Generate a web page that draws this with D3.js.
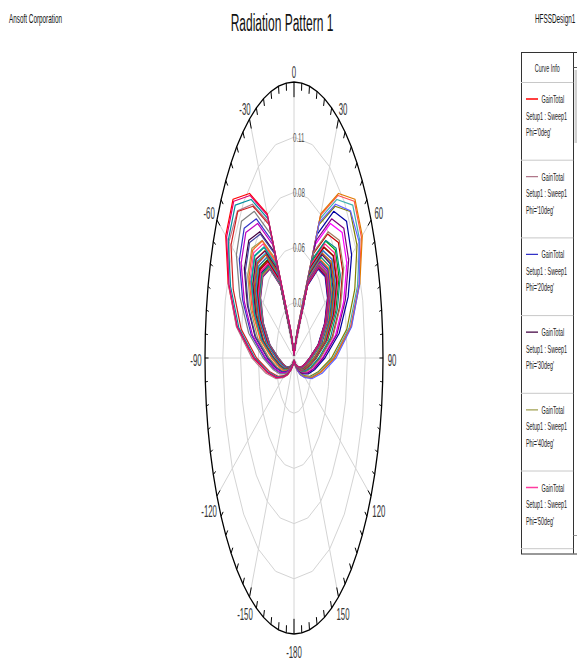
<!DOCTYPE html>
<html>
<head>
<meta charset="utf-8">
<script src="https://d3js.org/d3.v7.min.js"></script>
<style>
  body { margin: 0; background: #fff; }
  text { font-family: "Liberation Sans", Arial, sans-serif; }
</style>
</head>
<body>
<div id="chart"></div>
<script>

// theta samples (deg) of every cut, and the phi cuts that were swept
var thetaDeg = [0, 10, 20, 30, 40, 50, 60, 70, 80, 90, 100, 110, 120, 130, 140, 150, 160, 170, 180];
var phiDeg = [0, 10, 20, 30, 40, 50, 60, 70, 80, 90, 100, 110, 120, 130, 140, 150, 160, 170,
              180, 190, 200, 210, 220, 230, 240, 250, 260, 270, 280, 290, 300, 310, 320, 330, 340, 350];

// GainTotal, one list per phi, theta 0..180
var g000 = [0.0015, 0.0032, 0.0096, 0.0422, 0.0589, 0.0640, 0.0608, 0.0512, 0.0384, 0.0243, 0.0173, 0.0128, 0.0093, 0.0064, 0.0042, 0.0027, 0.0018, 0.0013, 0.0010];
var g010 = [0.0015, 0.0032, 0.0095, 0.0417, 0.0581, 0.0632, 0.0600, 0.0506, 0.0379, 0.0240, 0.0171, 0.0126, 0.0092, 0.0063, 0.0041, 0.0027, 0.0018, 0.0013, 0.0010];
var g020 = [0.0015, 0.0031, 0.0094, 0.0414, 0.0578, 0.0628, 0.0597, 0.0502, 0.0377, 0.0239, 0.0170, 0.0126, 0.0091, 0.0063, 0.0041, 0.0026, 0.0018, 0.0013, 0.0010];
var g030 = [0.0015, 0.0032, 0.0095, 0.0420, 0.0585, 0.0636, 0.0604, 0.0509, 0.0382, 0.0242, 0.0172, 0.0127, 0.0092, 0.0064, 0.0041, 0.0027, 0.0018, 0.0013, 0.0010];
var g040 = [0.0015, 0.0033, 0.0098, 0.0429, 0.0598, 0.0650, 0.0618, 0.0520, 0.0390, 0.0247, 0.0176, 0.0130, 0.0094, 0.0065, 0.0042, 0.0027, 0.0018, 0.0013, 0.0010];
var g050 = [0.0015, 0.0033, 0.0100, 0.0441, 0.0615, 0.0668, 0.0635, 0.0534, 0.0401, 0.0254, 0.0180, 0.0134, 0.0097, 0.0067, 0.0043, 0.0028, 0.0019, 0.0013, 0.0010];
var g060 = [0.0015, 0.0035, 0.0104, 0.0455, 0.0635, 0.0690, 0.0656, 0.0552, 0.0414, 0.0262, 0.0186, 0.0138, 0.0100, 0.0069, 0.0045, 0.0029, 0.0019, 0.0014, 0.0010];
var g070 = [0.0015, 0.0036, 0.0107, 0.0470, 0.0655, 0.0712, 0.0676, 0.0570, 0.0427, 0.0271, 0.0192, 0.0142, 0.0103, 0.0071, 0.0046, 0.0030, 0.0020, 0.0014, 0.0010];
var g080 = [0.0015, 0.0033, 0.0103, 0.0491, 0.0672, 0.0738, 0.0708, 0.0605, 0.0469, 0.0306, 0.0214, 0.0155, 0.0109, 0.0074, 0.0048, 0.0030, 0.0020, 0.0013, 0.0010];
var g090 = [0.0015, 0.0034, 0.0107, 0.0509, 0.0696, 0.0765, 0.0734, 0.0627, 0.0486, 0.0317, 0.0222, 0.0161, 0.0113, 0.0077, 0.0050, 0.0031, 0.0021, 0.0014, 0.0010];
var g100 = [0.0015, 0.0036, 0.0111, 0.0529, 0.0723, 0.0795, 0.0763, 0.0652, 0.0505, 0.0330, 0.0231, 0.0167, 0.0118, 0.0080, 0.0052, 0.0033, 0.0021, 0.0014, 0.0010];
var g110 = [0.0015, 0.0038, 0.0117, 0.0556, 0.0761, 0.0836, 0.0803, 0.0686, 0.0531, 0.0347, 0.0242, 0.0176, 0.0124, 0.0084, 0.0054, 0.0034, 0.0023, 0.0015, 0.0010];
var g120 = [0.0015, 0.0036, 0.0116, 0.0600, 0.0806, 0.0895, 0.0868, 0.0752, 0.0600, 0.0403, 0.0277, 0.0197, 0.0134, 0.0090, 0.0058, 0.0036, 0.0023, 0.0015, 0.0010];
var g130 = [0.0015, 0.0039, 0.0126, 0.0651, 0.0875, 0.0972, 0.0943, 0.0816, 0.0651, 0.0437, 0.0301, 0.0214, 0.0146, 0.0097, 0.0063, 0.0039, 0.0025, 0.0017, 0.0010];
var g140 = [0.0015, 0.0042, 0.0138, 0.0710, 0.0954, 0.1060, 0.1028, 0.0890, 0.0710, 0.0477, 0.0329, 0.0233, 0.0159, 0.0106, 0.0069, 0.0042, 0.0028, 0.0018, 0.0010];
var g150 = [0.0015, 0.0034, 0.0136, 0.0766, 0.0987, 0.1135, 0.1124, 0.0999, 0.0829, 0.0579, 0.0386, 0.0267, 0.0176, 0.0119, 0.0074, 0.0045, 0.0028, 0.0017, 0.0010];
var g160 = [0.0015, 0.0036, 0.0142, 0.0800, 0.1031, 0.1185, 0.1173, 0.1043, 0.0865, 0.0604, 0.0403, 0.0278, 0.0184, 0.0124, 0.0077, 0.0047, 0.0030, 0.0018, 0.0010];
var g170 = [0.0015, 0.0036, 0.0146, 0.0820, 0.1057, 0.1215, 0.1203, 0.1069, 0.0887, 0.0620, 0.0413, 0.0286, 0.0188, 0.0128, 0.0079, 0.0049, 0.0030, 0.0018, 0.0010];
var g180 = [0.0015, 0.0037, 0.0148, 0.0830, 0.1070, 0.1230, 0.1218, 0.1082, 0.0898, 0.0627, 0.0418, 0.0289, 0.0191, 0.0129, 0.0080, 0.0049, 0.0031, 0.0018, 0.0010];
var g190 = [0.0015, 0.0035, 0.0139, 0.0780, 0.1000, 0.1140, 0.1160, 0.1075, 0.0905, 0.0650, 0.0440, 0.0300, 0.0196, 0.0131, 0.0081, 0.0049, 0.0030, 0.0018, 0.0010];
var g200 = [0.0015, 0.0040, 0.0131, 0.0673, 0.0905, 0.1005, 0.0975, 0.0844, 0.0673, 0.0452, 0.0312, 0.0221, 0.0151, 0.0101, 0.0065, 0.0040, 0.0026, 0.0017, 0.0010];
var g210 = [0.0015, 0.0036, 0.0119, 0.0611, 0.0821, 0.0912, 0.0885, 0.0766, 0.0611, 0.0410, 0.0283, 0.0201, 0.0137, 0.0091, 0.0059, 0.0036, 0.0024, 0.0016, 0.0010];
var g220 = [0.0015, 0.0034, 0.0111, 0.0570, 0.0765, 0.0850, 0.0825, 0.0714, 0.0570, 0.0383, 0.0264, 0.0187, 0.0128, 0.0085, 0.0055, 0.0034, 0.0022, 0.0014, 0.0010];
var g230 = [0.0015, 0.0037, 0.0114, 0.0542, 0.0742, 0.0815, 0.0782, 0.0668, 0.0518, 0.0338, 0.0236, 0.0171, 0.0121, 0.0082, 0.0053, 0.0033, 0.0022, 0.0015, 0.0010];
var g240 = [0.0015, 0.0036, 0.0111, 0.0525, 0.0719, 0.0790, 0.0758, 0.0648, 0.0502, 0.0328, 0.0229, 0.0166, 0.0117, 0.0079, 0.0051, 0.0032, 0.0021, 0.0014, 0.0010];
var g250 = [0.0015, 0.0035, 0.0108, 0.0511, 0.0699, 0.0768, 0.0737, 0.0630, 0.0488, 0.0319, 0.0223, 0.0161, 0.0114, 0.0077, 0.0050, 0.0031, 0.0021, 0.0014, 0.0010];
var g260 = [0.0015, 0.0034, 0.0105, 0.0497, 0.0681, 0.0748, 0.0718, 0.0613, 0.0475, 0.0310, 0.0217, 0.0157, 0.0111, 0.0075, 0.0049, 0.0031, 0.0020, 0.0013, 0.0010];
var g270 = [0.0015, 0.0037, 0.0110, 0.0482, 0.0672, 0.0730, 0.0694, 0.0584, 0.0438, 0.0277, 0.0197, 0.0146, 0.0106, 0.0073, 0.0047, 0.0031, 0.0020, 0.0015, 0.0010];
var g280 = [0.0015, 0.0036, 0.0107, 0.0470, 0.0655, 0.0712, 0.0680, 0.0575, 0.0432, 0.0275, 0.0192, 0.0142, 0.0103, 0.0071, 0.0046, 0.0030, 0.0020, 0.0014, 0.0010];
var g290 = [0.0015, 0.0035, 0.0104, 0.0459, 0.0640, 0.0696, 0.0661, 0.0557, 0.0418, 0.0264, 0.0188, 0.0139, 0.0101, 0.0070, 0.0045, 0.0029, 0.0019, 0.0014, 0.0010];
var g300 = [0.0015, 0.0034, 0.0102, 0.0450, 0.0627, 0.0682, 0.0648, 0.0546, 0.0409, 0.0259, 0.0184, 0.0136, 0.0099, 0.0068, 0.0044, 0.0029, 0.0019, 0.0014, 0.0010];
var g310 = [0.0015, 0.0034, 0.0101, 0.0442, 0.0616, 0.0670, 0.0637, 0.0536, 0.0402, 0.0255, 0.0181, 0.0134, 0.0097, 0.0067, 0.0044, 0.0028, 0.0019, 0.0013, 0.0010];
var g320 = [0.0015, 0.0033, 0.0099, 0.0436, 0.0607, 0.0660, 0.0627, 0.0528, 0.0396, 0.0251, 0.0178, 0.0132, 0.0096, 0.0066, 0.0043, 0.0028, 0.0018, 0.0013, 0.0010];
var g330 = [0.0015, 0.0033, 0.0098, 0.0430, 0.0600, 0.0652, 0.0619, 0.0522, 0.0391, 0.0248, 0.0176, 0.0130, 0.0095, 0.0065, 0.0042, 0.0027, 0.0018, 0.0013, 0.0010];
var g340 = [0.0015, 0.0032, 0.0097, 0.0426, 0.0594, 0.0646, 0.0614, 0.0517, 0.0388, 0.0245, 0.0174, 0.0129, 0.0094, 0.0065, 0.0042, 0.0027, 0.0018, 0.0013, 0.0010];
var g350 = [0.0015, 0.0032, 0.0096, 0.0424, 0.0591, 0.0642, 0.0610, 0.0514, 0.0385, 0.0244, 0.0173, 0.0128, 0.0093, 0.0064, 0.0042, 0.0027, 0.0018, 0.0013, 0.0010];

var gainTable = [g000, g010, g020, g030, g040, g050, g060, g070, g080, g090, g100, g110,
                 g120, g130, g140, g150, g160, g170, g180, g190, g200, g210, g220, g230,
                 g240, g250, g260, g270, g280, g290, g300, g310, g320, g330, g340, g350];

var traceColors = ["#ff0000", "#b0788a", "#3232c8", "#400040", "#a0a050", "#ff3ca0",
                   "#008080", "#ff8000", "#20a0c0", "#a020a0", "#804000", "#00a000",
                   "#c80000", "#ff00ff", "#0000a0", "#808000", "#40b0b0", "#ff5050",
                   "#e07800", "#6060ff", "#800080", "#a08060", "#008c8c", "#ff2080",
                   "#a00000", "#2090d0", "#c06000", "#600060", "#00b0a0", "#ff6020",
                   "#4040a0", "#c000c0", "#808080", "#d02020", "#0090a0", "#e0006e"];

// radial grid and angle labels
var ringValues = [0.0275, 0.055, 0.0825, 0.11];
var ringLabels = ["0.03", "0.06", "0.08", "0.11"];
var rMax = 0.1375;
var angleTicks = [0, 30, 60, 90, 120, 150, 180, -150, -120, -90, -60, -30];
var angleLabels = ["0", "30", "60", "90", "120", "150", "-180", "-150", "-120", "-90", "-60", "-30"];

var width = 577, height = 661;
var cx = 294, cy = 358, rx = 89, ry = 276;
var squeeze = 0.49;

var svg = d3.select("#chart").append("svg")
    .attr("width", width)
    .attr("height", height);

var rX = d3.scaleLinear().domain([0, rMax]).range([0, rx]);
var rY = d3.scaleLinear().domain([0, rMax]).range([0, ry]);
var rad = d3.scaleLinear().domain([0, 180]).range([0, Math.PI]);

function px(t, v) { return cx + Math.sin(rad(t)) * rX(v); }
function py(t, v) { return cy - Math.cos(rad(t)) * rY(v); }

var polar = d3.line()
    .x(function(d) { return px(d.t, d.v); })
    .y(function(d) { return py(d.t, d.v); });

// narrow text like the original export
function addText(sel, x, y, str, size, anchor, color) {
  return sel.append("text")
    .attr("transform", "translate(" + x + "," + y + ") scale(" + squeeze + ",1)")
    .attr("text-anchor", anchor || "start")
    .attr("font-size", size)
    .attr("fill", color || "#000")
    .text(str);
}

// header texts
addText(svg, 9, 22.5, "Ansoft Corporation", 13, "start", "#111");
addText(svg, 282, 31, "Radiation Pattern 1", 24.5, "middle", "#111");
addText(svg, 535, 22.5, "HFSSDesign1", 13, "start", "#111");

var plot = svg.append("g");

// grid rings (drawn as polygons every 15 deg)
var ringAngles = d3.range(-180, 181, 15);
plot.selectAll(".ring")
  .data(ringValues)
  .enter().append("path")
    .attr("class", "ring")
    .attr("d", function(v) { return polar(ringAngles.map(function(t) { return {t: t, v: v}; })); })
    .attr("fill", "none")
    .attr("stroke", "#d4d4d4")
    .attr("stroke-width", 1);

// spokes
plot.selectAll(".spoke")
  .data(d3.range(-180, 180, 30))
  .enter().append("line")
    .attr("class", "spoke")
    .attr("x1", cx).attr("y1", cy)
    .attr("x2", function(t) { return px(t, rMax); })
    .attr("y2", function(t) { return py(t, rMax); })
    .attr("stroke", "#d4d4d4")
    .attr("stroke-width", 1);

// ring labels
ringValues.forEach(function(v, i) {
  addText(plot, cx - 1, py(0, v) + 4.5, ringLabels[i], 12.5, "start", "#555");
});

// outer ring
var outerAngles = d3.range(-180, 181, 5);
plot.append("path")
  .attr("d", polar(outerAngles.map(function(t) { return {t: t, v: rMax}; })))
  .attr("fill", "none")
  .attr("stroke", "#000")
  .attr("stroke-width", 1.3);

// ticks every 5 deg, pointing inwards
plot.selectAll(".tick")
  .data(d3.range(-180, 180, 5))
  .enter().append("line")
    .attr("class", "tick")
    .attr("x1", function(t) { return px(t, rMax); })
    .attr("y1", function(t) { return py(t, rMax); })
    .attr("x2", function(t) { return px(t, rMax * (1 - tickLen(t))); })
    .attr("y2", function(t) { return py(t, rMax * (1 - tickLen(t))); })
    .attr("stroke", "#000")
    .attr("stroke-width", 1);

function tickLen(t) {
  if (t % 180 === 0) return 0.055;
  if (t % 30 === 0) return 0.04;
  return 0.028;
}

// angle labels
angleTicks.forEach(function(a, i) {
  var s = Math.sin(rad(a)), c = Math.cos(rad(a));
  var x = px(a, rMax) + 9 * s;
  var yc = py(a, rMax) - 6 * c + (c > 0.01 ? -4 : (c < -0.01 ? 12 : 2));
  addText(plot, x, yc + 5.5, angleLabels[i], 16, "middle", "#333");
});

// traces: negative theta of cut phi is the half plane phi+180
function tracePoints(i) {
  var pts = [];
  var opp = (i + 18) % 36;
  for (var k = thetaDeg.length - 1; k >= 1; k--) {
    pts.push({t: -thetaDeg[k], v: gainTable[opp][k]});
  }
  for (var j = 0; j < thetaDeg.length; j++) {
    pts.push({t: thetaDeg[j], v: gainTable[i][j]});
  }
  return pts;
}

plot.append("g").selectAll(".trace")
  .data(phiDeg)
  .enter().append("path")
    .attr("class", "trace")
    .attr("d", function(p, i) { return polar(tracePoints(i)); })
    .attr("fill", "none")
    .attr("stroke", function(p, i) { return traceColors[i]; })
    .attr("stroke-width", 1.2)
    .attr("stroke-linejoin", "round");

// legend
var lx = 521, ly = 52, lw = 60, lh = 501.5, colX = 573.5;
var rowTop = 82.5, rowH = 77.7;

svg.append("clipPath").attr("id", "legClip")
  .append("rect").attr("x", lx).attr("y", ly).attr("width", colX - lx).attr("height", lh);

var leg = svg.append("g");
leg.append("rect")
  .attr("x", lx + 0.5).attr("y", ly + 0.5)
  .attr("width", lw).attr("height", lh)
  .attr("fill", "#fff").attr("stroke", "#333").attr("stroke-width", 1);

leg.append("line")
  .attr("x1", colX).attr("x2", colX).attr("y1", ly).attr("y2", ly + lh)
  .attr("stroke", "#333");
leg.append("rect")
  .attr("x", colX + 1).attr("y", 70).attr("width", 3).attr("height", 73)
  .attr("fill", "#d0d0d0");
leg.append("line")
  .attr("x1", colX).attr("x2", width).attr("y1", 67.5).attr("y2", 67.5)
  .attr("stroke", "#555");
leg.append("line")
  .attr("x1", colX).attr("x2", width).attr("y1", 535.5).attr("y2", 535.5)
  .attr("stroke", "#999");

addText(leg, (lx + colX) / 2, 72, "Curve Info", 11, "middle", "#222");

var rows = leg.append("g").attr("clip-path", "url(#legClip)");
rows.append("line")
  .attr("x1", lx).attr("x2", colX).attr("y1", rowTop).attr("y2", rowTop)
  .attr("stroke", "#c8c8c8");

phiDeg.forEach(function(p, i) {
  var top = rowTop + i * rowH;
  if (top > ly + lh) return;
  var r = rows.append("g");
  r.append("line")
    .attr("x1", 526).attr("x2", 538).attr("y1", top + 16.5).attr("y2", top + 16.5)
    .attr("stroke", traceColors[i]).attr("stroke-width", 1.3);
  addText(r, 541.5, top + 20.5, "GainTotal", 11, "start", "#222");
  addText(r, 526, top + 37, "Setup1 : Sweep1", 11, "start", "#222");
  addText(r, 526, top + 53.5, "Phi='" + p + "deg'", 11, "start", "#222");
  r.append("line")
    .attr("x1", lx).attr("x2", colX).attr("y1", top + rowH).attr("y2", top + rowH)
    .attr("stroke", "#c8c8c8");
});

</script>
</body>
</html>
